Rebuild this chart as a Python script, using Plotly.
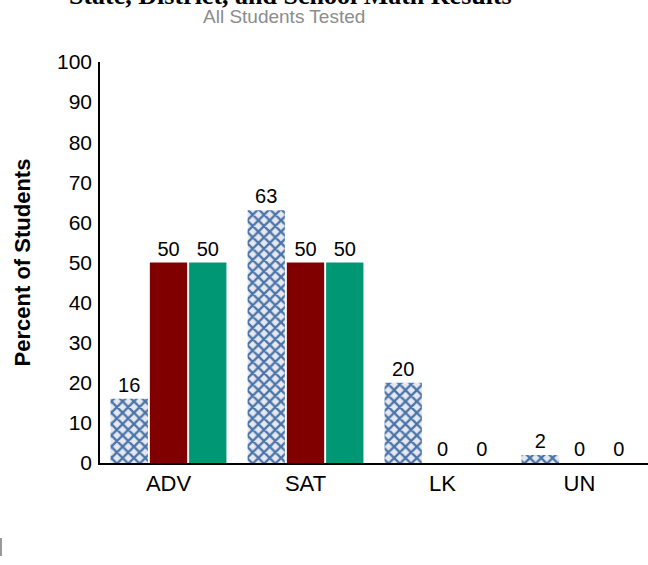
import plotly.graph_objects as go

categories = ["ADV", "SAT", "LK", "UN"]
state_vals = [16, 63, 20, 2]
district_vals = [50, 50, 0, 0]
school_vals = [50, 50, 0, 0]
series_names = ["State", "District", "School"]
y_ticks = [0, 10, 20, 30, 40, 50, 60, 70, 80, 90, 100]

fig = go.Figure()
fig.add_trace(go.Bar(
    x=categories, y=state_vals, name=series_names[0],
    text=state_vals, textposition="outside",
    marker=dict(color="#e6e7ef", line=dict(width=0),
                pattern=dict(shape="x", fgcolor="#4a75aa", bgcolor="#e6e7ef",
                             size=8, solidity=0.5, fillmode="replace")),
    cliponaxis=False,
))
fig.add_trace(go.Bar(
    x=categories, y=district_vals, name=series_names[1],
    text=district_vals, textposition="outside",
    marker=dict(color="#800000", line=dict(width=0)),
    cliponaxis=False,
))
fig.add_trace(go.Bar(
    x=categories, y=school_vals, name=series_names[2],
    text=school_vals, textposition="outside",
    marker=dict(color="#009874", line=dict(width=0)),
    cliponaxis=False,
))

fig.update_traces(textfont=dict(family="Arial, Liberation Sans", size=20, color="black"))

fig.update_layout(
    width=648, height=565,
    margin=dict(l=100, r=0, t=62, b=102),
    paper_bgcolor="white", plot_bgcolor="white",
    showlegend=False,
    barmode="group", bargap=0.14, bargroupgap=0.05,
    font=dict(family="Arial, Liberation Sans", color="black"),
    annotations=[
        dict(text="<b>State, District, and School Math Results</b>", xref="paper", yref="paper",
             x=(290-100)/548, y=(463+4.5)/401, xanchor="center", yanchor="middle",
             showarrow=False,
             font=dict(family="Liberation Serif, Times New Roman, serif", size=26, color="black")),
        dict(text="All Students Tested", xref="paper", yref="paper",
             x=(284-100)/548, y=(463-16)/401, xanchor="center", yanchor="middle",
             showarrow=False, font=dict(size=19, color="#8c8c8c")),
    ],
    xaxis=dict(showline=True, linecolor="black", linewidth=2, ticks="",
               tickfont=dict(size=22), showgrid=False),
    yaxis=dict(range=[0, 100], tickvals=y_ticks, showline=True, linecolor="black",
               linewidth=1.5, showgrid=False, zeroline=False,
               ticks="outside", ticklen=2, tickcolor="rgba(0,0,0,0)",
               tickfont=dict(size=21),
               title=dict(text="<b>Percent of Students</b>", font=dict(size=22), standoff=20)),
)
fig.add_shape(type="line", xref="paper", yref="paper",
              x0=-99/548, x1=-99/548, y0=(463-538)/401, y1=(463-556)/401,
              line=dict(color="#999999", width=2))

fig.write_html("out.html", config={"displayModeBar": False},
               post_script="document.body.style.margin='0';document.body.style.overflow='hidden';")
